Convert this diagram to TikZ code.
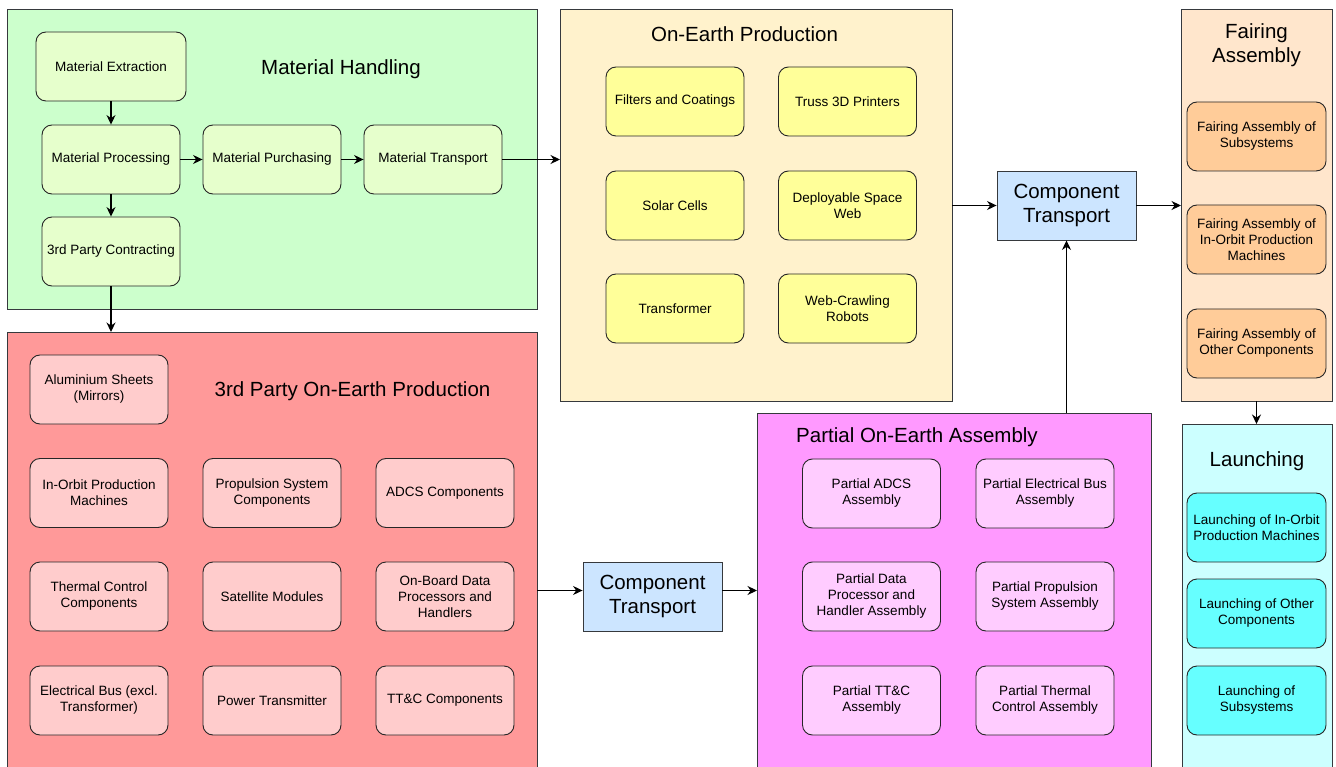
\documentclass[tikz,border=0pt]{standalone}
\usepackage{fontspec}
\setmainfont{Liberation Sans}
\usetikzlibrary{arrows.meta}

\definecolor{greenbg}{HTML}{CCFFCC}
\definecolor{greenbox}{HTML}{E6FFCC}
\definecolor{yellowbg}{HTML}{FFF2CC}
\definecolor{yellowbox}{HTML}{FFFF99}
\definecolor{fairbg}{HTML}{FFE6CC}
\definecolor{fairbox}{HTML}{FFCC99}
\definecolor{redbg}{HTML}{FF9999}
\definecolor{redbox}{HTML}{FFCCCC}
\definecolor{pinkbg}{HTML}{FF99FF}
\definecolor{pinkbox}{HTML}{FFCCFF}
\definecolor{launchbg}{HTML}{CCFFFF}
\definecolor{launchbox}{HTML}{66FFFF}
\definecolor{transfill}{HTML}{CCE5FF}
\definecolor{edge}{HTML}{36393D}

\tikzset{
  container/.style={draw=edge, line width=0.9pt, rectangle, inner sep=0pt,
    outer sep=0pt, anchor=north west},
  grouptitle/.style={font=\fontsize{20.5pt}{24pt}\selectfont, align=center,
    inner sep=0pt},
  item/.style={draw=black!85, line width=0.9pt, rounded corners=10pt,
    minimum width=138pt, minimum height=69pt, align=center, inner sep=1pt,
    font=\fontsize{13.5pt}{16pt}\selectfont},
  transit/.style={draw=edge, line width=0.9pt, fill=transfill,
    minimum width=139pt, minimum height=69pt, align=center, inner sep=1pt,
    font=\fontsize{20.5pt}{24pt}\selectfont},
  arr/.style={draw=black, line width=1.1pt, -{Stealth[length=9.5pt,width=9pt]}},
}

\begin{document}
\begin{tikzpicture}[x=1pt, y=-1pt]
\clip (0,0) rectangle (1336,767);
\fill[white] (0,0) rectangle (1336,767);

% ---------- Material Handling ----------
\node[container, fill=greenbg, minimum width=530pt, minimum height=300pt] (mh) at (7,9) {};
\node[grouptitle] (mhtitle) at (341,69) {Material Handling};
\node[item, fill=greenbox, minimum width=150pt] (ext) at (111,66.5) {Material Extraction};
\node[item, fill=greenbox] (proc) at (111,159.5) {Material Processing};
\node[item, fill=greenbox] (purch) at (272,159.5) {Material Purchasing};
\node[item, fill=greenbox] (trans) at (433,159.5) {Material Transport};
\node[item, fill=greenbox] (contr) at (111,251.5) {3rd Party Contracting};

% ---------- On-Earth Production ----------
\node[container, fill=yellowbg, minimum width=392pt, minimum height=392pt] (oep) at (560,9) {};
\node[grouptitle] (oeptitle) at (744.5,34) {On-Earth Production};
\node[item, fill=yellowbox] (filt) at (675,101.5) {Filters and Coatings};
\node[item, fill=yellowbox] (truss) at (847.5,101.5) {Truss 3D Printers};
\node[item, fill=yellowbox] (solar) at (675,205.5) {Solar Cells};
\node[item, fill=yellowbox] (web) at (847.5,205.5) {Deployable Space\\Web};
\node[item, fill=yellowbox] (xfmr) at (675,308.5) {Transformer};
\node[item, fill=yellowbox] (robots) at (847.5,308.5) {Web-Crawling\\Robots};

% ---------- Component Transport (upper) ----------
\node[transit] (ctup) at (1066.5,205.5) {Component\\Transport};

% ---------- Fairing Assembly ----------
\node[container, fill=fairbg, minimum width=151pt, minimum height=392pt] (fa) at (1181,9) {};
\node[grouptitle] (fatitle) at (1256.5,45) {Fairing\\Assembly};
\node[item, fill=fairbox, minimum width=139pt] (fa1) at (1256.5,136.5) {Fairing Assembly of\\Subsystems};
\node[item, fill=fairbox, minimum width=139pt] (fa2) at (1256.5,239.5) {Fairing Assembly of\\In-Orbit Production\\Machines};
\node[item, fill=fairbox, minimum width=139pt] (fa3) at (1256.5,343.5) {Fairing Assembly of\\Other Components};

% ---------- Launching ----------
\node[container, fill=launchbg, minimum width=150pt, minimum height=360pt] (la) at (1182,424) {};
\node[grouptitle] (latitle) at (1257,461) {Launching};
\node[item, fill=launchbox, minimum width=139pt] (la1) at (1256.5,527.5) {Launching of In-Orbit\\Production Machines};
\node[item, fill=launchbox, minimum width=139pt] (la2) at (1256.5,613.5) {Launching of Other\\Components};
\node[item, fill=launchbox, minimum width=139pt] (la3) at (1256.5,700.5) {Launching of\\Subsystems};

% ---------- 3rd Party On-Earth Production ----------
\node[container, fill=redbg, minimum width=530pt, minimum height=450pt] (tp) at (7,332) {};
\node[grouptitle] (tptitle) at (352.5,391) {3rd Party On-Earth Production};
\node[item, fill=redbox] (alu) at (99,389.5) {Aluminium Sheets\\(Mirrors)};
\node[item, fill=redbox] (iopm) at (99,493) {In-Orbit Production\\Machines};
\node[item, fill=redbox] (prop) at (272,493) {Propulsion System\\Components};
\node[item, fill=redbox] (adcs) at (445,493) {ADCS Components};
\node[item, fill=redbox] (therm) at (99,596.5) {Thermal Control\\Components};
\node[item, fill=redbox] (satmod) at (272,596.5) {Satellite Modules};
\node[item, fill=redbox] (obdh) at (445,596.5) {On-Board Data\\Processors and\\Handlers};
\node[item, fill=redbox] (ebus) at (99,700.5) {Electrical Bus (excl.\\Transformer)};
\node[item, fill=redbox] (ptx) at (272,700.5) {Power Transmitter};
\node[item, fill=redbox] (ttc) at (445,700.5) {TT\&C Components};

% ---------- Component Transport (lower) ----------
\node[transit] (ctlow) at (652.5,596.5) {Component\\Transport};

% ---------- Partial On-Earth Assembly ----------
\node[container, fill=pinkbg, minimum width=394pt, minimum height=370pt] (pa) at (757,413) {};
\node[grouptitle] (patitle) at (917,437) {Partial On-Earth Assembly};
\node[item, fill=pinkbox] (pa1) at (871.5,493.5) {Partial ADCS\\Assembly};
\node[item, fill=pinkbox] (pa2) at (1045,493.5) {Partial Electrical Bus\\Assembly};
\node[item, fill=pinkbox] (pa3) at (871.5,596.5) {Partial Data\\Processor and\\Handler Assembly};
\node[item, fill=pinkbox] (pa4) at (1045,596.5) {Partial Propulsion\\System Assembly};
\node[item, fill=pinkbox] (pa5) at (871.5,700.5) {Partial TT\&C\\Assembly};
\node[item, fill=pinkbox] (pa6) at (1045,700.5) {Partial Thermal\\Control Assembly};

% ---------- Connectors ----------
\draw[arr] (ext.south) -- (proc.north);
\draw[arr] (proc.east) -- (purch.west);
\draw[arr] (purch.east) -- (trans.west);
\draw[arr] (proc.south) -- (contr.north);
\draw[arr] (trans.east) -- (trans.east -| oep.west);
\draw[arr] (contr.south) -- (contr.south |- tp.north);
\draw[arr] (ctup.west -| oep.east) -- (ctup.west);
\draw[arr] (ctup.east) -- (ctup.east -| fa.west);
\draw[arr] (ctup.south |- pa.north) -- (ctup.south);
\draw[arr] (fa.south -| fa1.south) -- (fa1.south |- la.north);
\draw[arr] ([yshift=6pt]ctlow.west -| tp.east) -- ([yshift=6pt]ctlow.west);
\draw[arr] ([yshift=6pt]ctlow.east) -- ([yshift=6pt]ctlow.east -| pa.west);
\end{tikzpicture}
\end{document}
